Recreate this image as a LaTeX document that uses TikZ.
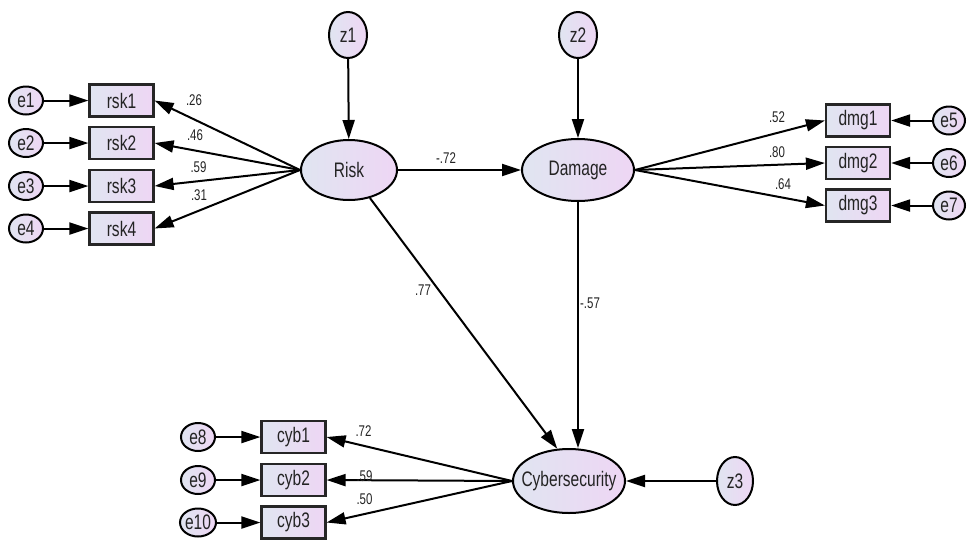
\documentclass[tikz,border=0pt]{standalone}
\usepackage{fontspec}
\newfontfamily\semfont{Liberation Sans}[FakeStretch=0.74]
\usetikzlibrary{shapes.geometric,arrows.meta}
\definecolor{semblue}{RGB}{224,229,241}
\definecolor{sempink}{RGB}{238,214,244}
\definecolor{semtextcol}{RGB}{35,35,35}
\newcommand{\semtext}[1]{\makebox[0pt]{#1}}

\begin{document}
\begin{tikzpicture}[x=1pt,y=-1pt,
        lat/.style={ellipse,draw,line width=2pt,left color=semblue,right color=sempink,inner sep=0pt,text=semtextcol,font=\semfont\fontsize{21}{23}\selectfont},
        err/.style={lat,minimum width=34pt,minimum height=28pt},
        obs/.style={rectangle,draw=black!85,line width=2.2pt,left color=semblue,right color=sempink,minimum width=64pt,minimum height=32pt,inner sep=0pt,text=semtextcol,font=\semfont\fontsize{21}{23}\selectfont},
        arr/.style={-{Triangle[length=19pt,width=12pt]},line width=2pt},
        lbl/.style={inner sep=0pt,text=semtextcol,font=\semfont\fontsize{15.5}{17}\selectfont}]
        \useasboundingbox(0,0)rectangle(970,539);

        \node[lat,minimum width=96pt,minimum height=60pt](risk)at(349,170){\semtext{Risk}};
        \node[lat,minimum width=112pt,minimum height=62pt](damage)at(578,170){\semtext{Damage}};
        \node[lat,minimum width=112pt,minimum height=64pt](cyber)at(569,481){\semtext{Cybersecurity}};
        \node[lat,minimum width=38pt,minimum height=46pt](z1)at(348,35){\semtext{z1}};
        \node[lat,minimum width=38pt,minimum height=46pt](z2)at(578,35){\semtext{z2}};
        \node[lat,minimum width=36pt,minimum height=48pt](z3)at(735,481){\semtext{z3}};

        \node[obs](rsk1)at(121.5,100.5){rsk1};
        \node[obs](rsk2)at(121.5,143){rsk2};
        \node[obs](rsk3)at(121.5,186){rsk3};
        \node[obs](rsk4)at(121.5,228.5){rsk4};
        \node[err](e1)at(26,100.5){\semtext{e1}};
        \node[err](e2)at(26,143){\semtext{e2}};
        \node[err](e3)at(26,186){\semtext{e3}};
        \node[err](e4)at(26,228.5){\semtext{e4}};

        \node[obs](dmg1)at(858,120.5){dmg1};
        \node[obs](dmg2)at(858,163){dmg2};
        \node[obs](dmg3)at(858,205.5){dmg3};
        \node[err,minimum width=32pt](e5)at(949,120.5){\semtext{e5}};
        \node[err,minimum width=32pt](e6)at(949,163){\semtext{e6}};
        \node[err,minimum width=32pt](e7)at(949,205.5){\semtext{e7}};

        \node[obs](cyb1)at(293.5,437){cyb1};
        \node[obs](cyb2)at(293.5,480){cyb2};
        \node[obs](cyb3)at(293.5,522.5){cyb3};
        \node[err](e8)at(198,437){\semtext{e8}};
        \node[err](e9)at(198,480){\semtext{e9}};
        \node[err,minimum width=36pt](e10)at(198,522.5){\semtext{e10}};

        \draw[arr](z1)--(risk);
        \draw[arr](z2)--(damage);
        \draw[arr](z3)--(cyber);
        \draw[arr](risk)--(damage);
        \draw[arr](risk)--(cyber.110);
        \draw[arr](damage)--(damage|-cyber.north);

        \draw[arr](e1)--(rsk1);
        \draw[arr](e2)--(rsk2);
        \draw[arr](e3)--(rsk3);
        \draw[arr](e4)--(rsk4);
        \draw[arr](risk.west)--(rsk1.east);
        \draw[arr](risk.west)--(rsk2.east);
        \draw[arr](risk.west)--(rsk3.east);
        \draw[arr](risk.west)--(rsk4.east);

        \draw[arr](e5)--(dmg1);
        \draw[arr](e6)--(dmg2);
        \draw[arr](e7)--(dmg3);
        \draw[arr](damage.east)--(dmg1.west);
        \draw[arr](damage.east)--(dmg2.west);
        \draw[arr](damage.east)--(dmg3.west);

        \draw[arr](e8)--(cyb1);
        \draw[arr](e9)--(cyb2);
        \draw[arr](e10)--(cyb3);
        \draw[arr](cyber.west)--(cyb1.east);
        \draw[arr](cyber.west)--(cyb2.east);
        \draw[arr](cyber.west)--(cyb3.east);

        \node[lbl](lrsk1)at(194,100){.26};
        \node[lbl](lrsk2)at(195,135){.46};
        \node[lbl](lrsk3)at(198.5,167){.59};
        \node[lbl](lrsk4)at(199,195.5){.31};
        \node[lbl](lrd)at(446,158){-.72};
        \node[lbl](ldmg1)at(777,117.5){.52};
        \node[lbl](ldmg2)at(777,152){.80};
        \node[lbl](ldmg3)at(783,184.5){.64};
        \node[lbl](lrc)at(423,290.5){.77};
        \node[lbl](ldc)at(590,303.5){-.57};
        \node[lbl](lcyb1)at(363.5,431.5){.72};
        \node[lbl](lcyb2)at(364.5,476){.59};
        \node[lbl](lcyb3)at(364.5,499){.50};
    \end{tikzpicture}
\end{document}
